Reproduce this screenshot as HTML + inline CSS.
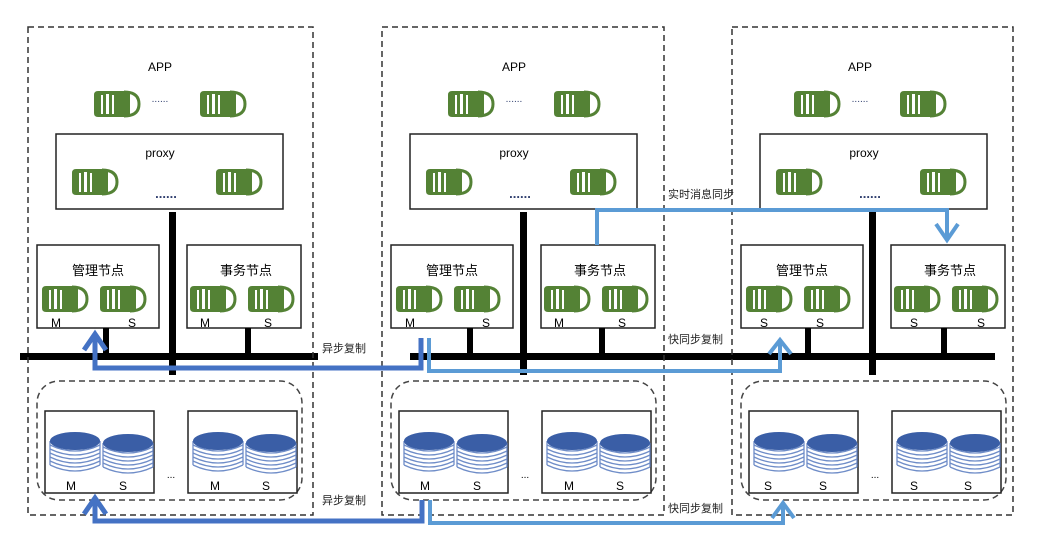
<!DOCTYPE html>
<html><head><meta charset="utf-8"><style>
html,body{margin:0;padding:0;background:#fff;}
svg{display:block;font-family:"Liberation Sans","Noto Sans CJK SC",sans-serif;}
</style></head><body>
<svg width="1046" height="560" viewBox="0 0 1046 560" xmlns="http://www.w3.org/2000/svg">
<defs>
<g id="ic">
<path d="M4 2 H30 V28 H4 Q0 28 0 24 V6 Q0 2 4 2Z" fill="#548235"/>
<rect x="7" y="6" width="2" height="19" fill="#fff"/>
<rect x="12" y="5" width="3" height="20" fill="#fff"/>
<rect x="18" y="6" width="2" height="19" fill="#fff"/>
<path d="M30 3 Q45 3 45 15 Q45 27 30 27" fill="#fff" stroke="#548235" stroke-width="3"/>
<rect x="30" y="3" width="6" height="24" fill="#548235"/>
</g>
<g id="cy">
<g stroke="#6f8dc8" stroke-width="1.3" fill="none">
<path d="M1 14 Q26 26 51 14"/><path d="M1 18 Q26 30 51 18"/><path d="M1 22 Q26 34 51 22"/>
<path d="M1 26 Q26 38 51 26"/><path d="M1 30 Q26 42 51 30"/><path d="M1 34 Q26 46 51 34"/>
<path d="M1 10 V34 M51 10 V34"/>
</g>
<ellipse cx="26" cy="10" rx="25" ry="9" fill="#3a5ea6"/>
</g>
</defs>

<!-- black bus bars -->
<g fill="#000">
<rect x="20" y="353" width="298" height="7"/>
<rect x="410" y="353" width="585" height="7"/>
<rect x="169" y="212" width="7" height="163"/>
<rect x="520" y="212" width="7" height="163"/>
<rect x="869" y="212" width="7" height="163"/>
</g>

<!-- panels -->
<g id="p1">
<rect x="28" y="27" width="285" height="488" fill="none" stroke="#333" stroke-width="1.5" stroke-dasharray="6,4"/>
<text x="160" y="71" font-size="12" text-anchor="middle">APP</text>
<use href="#ic" x="94" y="89"/><use href="#ic" x="200" y="89"/>
<text x="160" y="102" font-size="10" text-anchor="middle" fill="#2f3e6e">......</text>
<rect x="56" y="134" width="227" height="75" fill="#fff" stroke="#222" stroke-width="1.5"/>
<text x="160" y="157" font-size="12" text-anchor="middle">proxy</text>
<use href="#ic" x="72" y="167"/><use href="#ic" x="216" y="167"/>
<text x="166" y="198" font-size="13" font-weight="bold" text-anchor="middle" fill="#2f3e6e">......</text>
<rect x="37" y="245" width="122" height="83" fill="#fff" stroke="#222" stroke-width="1.5"/>
<text x="98" y="275" font-size="13" text-anchor="middle">管理节点</text>
<use href="#ic" x="42" y="284"/><use href="#ic" x="100" y="284"/>
<text x="56" y="327" font-size="12" text-anchor="middle">M</text><text x="132" y="327" font-size="12" text-anchor="middle">S</text>
<rect x="187" y="245" width="114" height="83" fill="#fff" stroke="#222" stroke-width="1.5"/>
<text x="246" y="275" font-size="13" text-anchor="middle">事务节点</text>
<use href="#ic" x="190" y="284"/><use href="#ic" x="248" y="284"/>
<text x="205" y="327" font-size="12" text-anchor="middle">M</text><text x="268" y="327" font-size="12" text-anchor="middle">S</text>
<rect x="103" y="328" width="6" height="27" fill="#000"/><rect x="245" y="328" width="6" height="27" fill="#000"/>
<rect x="37" y="381" width="265" height="119" rx="22" fill="none" stroke="#444" stroke-width="1.5" stroke-dasharray="6,4"/>
<rect x="45" y="411" width="109" height="82" fill="#fff" stroke="#222" stroke-width="1.5"/>
<use href="#cy" x="49" y="431"/><use href="#cy" x="102" y="433"/>
<text x="71" y="490" font-size="12" text-anchor="middle">M</text><text x="123" y="490" font-size="12" text-anchor="middle">S</text>
<text x="171" y="478" font-size="10" text-anchor="middle">...</text>
<rect x="188" y="411" width="109" height="82" fill="#fff" stroke="#222" stroke-width="1.5"/>
<use href="#cy" x="192" y="431"/><use href="#cy" x="245" y="433"/>
<text x="215" y="490" font-size="12" text-anchor="middle">M</text><text x="266" y="490" font-size="12" text-anchor="middle">S</text>
</g>
<g transform="translate(354,0)">
<rect x="28" y="27" width="282" height="488" fill="none" stroke="#333" stroke-width="1.5" stroke-dasharray="6,4"/>
<text x="160" y="71" font-size="12" text-anchor="middle">APP</text>
<use href="#ic" x="94" y="89"/><use href="#ic" x="200" y="89"/>
<text x="160" y="102" font-size="10" text-anchor="middle" fill="#2f3e6e">......</text>
<rect x="56" y="134" width="227" height="75" fill="#fff" stroke="#222" stroke-width="1.5"/>
<text x="160" y="157" font-size="12" text-anchor="middle">proxy</text>
<use href="#ic" x="72" y="167"/><use href="#ic" x="216" y="167"/>
<text x="166" y="198" font-size="13" font-weight="bold" text-anchor="middle" fill="#2f3e6e">......</text>
<rect x="37" y="245" width="122" height="83" fill="#fff" stroke="#222" stroke-width="1.5"/>
<text x="98" y="275" font-size="13" text-anchor="middle">管理节点</text>
<use href="#ic" x="42" y="284"/><use href="#ic" x="100" y="284"/>
<text x="56" y="327" font-size="12" text-anchor="middle">M</text><text x="132" y="327" font-size="12" text-anchor="middle">S</text>
<rect x="187" y="245" width="114" height="83" fill="#fff" stroke="#222" stroke-width="1.5"/>
<text x="246" y="275" font-size="13" text-anchor="middle">事务节点</text>
<use href="#ic" x="190" y="284"/><use href="#ic" x="248" y="284"/>
<text x="205" y="327" font-size="12" text-anchor="middle">M</text><text x="268" y="327" font-size="12" text-anchor="middle">S</text>
<rect x="113" y="328" width="6" height="27" fill="#000"/><rect x="245" y="328" width="6" height="27" fill="#000"/>
<rect x="37" y="381" width="265" height="119" rx="22" fill="none" stroke="#444" stroke-width="1.5" stroke-dasharray="6,4"/>
<rect x="45" y="411" width="109" height="82" fill="#fff" stroke="#222" stroke-width="1.5"/>
<use href="#cy" x="49" y="431"/><use href="#cy" x="102" y="433"/>
<text x="71" y="490" font-size="12" text-anchor="middle">M</text><text x="123" y="490" font-size="12" text-anchor="middle">S</text>
<text x="171" y="478" font-size="10" text-anchor="middle">...</text>
<rect x="188" y="411" width="109" height="82" fill="#fff" stroke="#222" stroke-width="1.5"/>
<use href="#cy" x="192" y="431"/><use href="#cy" x="245" y="433"/>
<text x="215" y="490" font-size="12" text-anchor="middle">M</text><text x="266" y="490" font-size="12" text-anchor="middle">S</text>
</g>
<g transform="translate(704,0)">
<rect x="28" y="27" width="281" height="488" fill="none" stroke="#333" stroke-width="1.5" stroke-dasharray="6,4"/>
<text x="156" y="71" font-size="12" text-anchor="middle">APP</text>
<use href="#ic" x="90" y="89"/><use href="#ic" x="196" y="89"/>
<text x="156" y="102" font-size="10" text-anchor="middle" fill="#2f3e6e">......</text>
<rect x="56" y="134" width="227" height="75" fill="#fff" stroke="#222" stroke-width="1.5"/>
<text x="160" y="157" font-size="12" text-anchor="middle">proxy</text>
<use href="#ic" x="72" y="167"/><use href="#ic" x="216" y="167"/>
<text x="166" y="198" font-size="13" font-weight="bold" text-anchor="middle" fill="#2f3e6e">......</text>
<rect x="37" y="245" width="122" height="83" fill="#fff" stroke="#222" stroke-width="1.5"/>
<text x="98" y="275" font-size="13" text-anchor="middle">管理节点</text>
<use href="#ic" x="42" y="284"/><use href="#ic" x="100" y="284"/>
<text x="60" y="327" font-size="12" text-anchor="middle">S</text><text x="116" y="327" font-size="12" text-anchor="middle">S</text>
<rect x="187" y="245" width="114" height="83" fill="#fff" stroke="#222" stroke-width="1.5"/>
<text x="246" y="275" font-size="13" text-anchor="middle">事务节点</text>
<use href="#ic" x="190" y="284"/><use href="#ic" x="248" y="284"/>
<text x="210" y="327" font-size="12" text-anchor="middle">S</text><text x="277" y="327" font-size="12" text-anchor="middle">S</text>
<rect x="101" y="328" width="6" height="27" fill="#000"/><rect x="237" y="328" width="6" height="27" fill="#000"/>
<rect x="37" y="381" width="265" height="119" rx="22" fill="none" stroke="#444" stroke-width="1.5" stroke-dasharray="6,4"/>
<rect x="45" y="411" width="109" height="82" fill="#fff" stroke="#222" stroke-width="1.5"/>
<use href="#cy" x="49" y="431"/><use href="#cy" x="102" y="433"/>
<text x="64" y="490" font-size="12" text-anchor="middle">S</text><text x="119" y="490" font-size="12" text-anchor="middle">S</text>
<text x="171" y="478" font-size="10" text-anchor="middle">...</text>
<rect x="188" y="411" width="109" height="82" fill="#fff" stroke="#222" stroke-width="1.5"/>
<use href="#cy" x="192" y="431"/><use href="#cy" x="245" y="433"/>
<text x="210" y="490" font-size="12" text-anchor="middle">S</text><text x="264" y="490" font-size="12" text-anchor="middle">S</text>
</g>

<!-- blue connectors -->
<g fill="none" stroke-linejoin="miter">
<path d="M421 338 V368 H95 V336" stroke="#4472c4" stroke-width="5"/>
<path d="M84 350 L95 334 L106 350" stroke="#4472c4" stroke-width="5"/>
<path d="M429 338 V371 H780 V342" stroke="#5b9bd5" stroke-width="4"/>
<path d="M769 354 L780 340 L791 354" stroke="#5b9bd5" stroke-width="4"/>
<path d="M422 500 V521 H95 V500" stroke="#4472c4" stroke-width="5"/>
<path d="M84 514 L95 498 L106 514" stroke="#4472c4" stroke-width="5"/>
<path d="M430 500 V523 H783 V505" stroke="#5b9bd5" stroke-width="4"/>
<path d="M772 518 L783 503 L794 518" stroke="#5b9bd5" stroke-width="4"/>
<path d="M597 245 V210 H947 V238" stroke="#5b9bd5" stroke-width="4"/>
<path d="M936 224 L947 240 L958 224" stroke="#5b9bd5" stroke-width="4"/>
</g>
<g font-size="11" fill="#222">
<text x="322" y="352">异步复制</text>
<text x="668" y="343">快同步复制</text>
<text x="668" y="198">实时消息同步</text>
<text x="322" y="504">异步复制</text>
<text x="668" y="512">快同步复制</text>
</g>
</svg>
</body></html>
